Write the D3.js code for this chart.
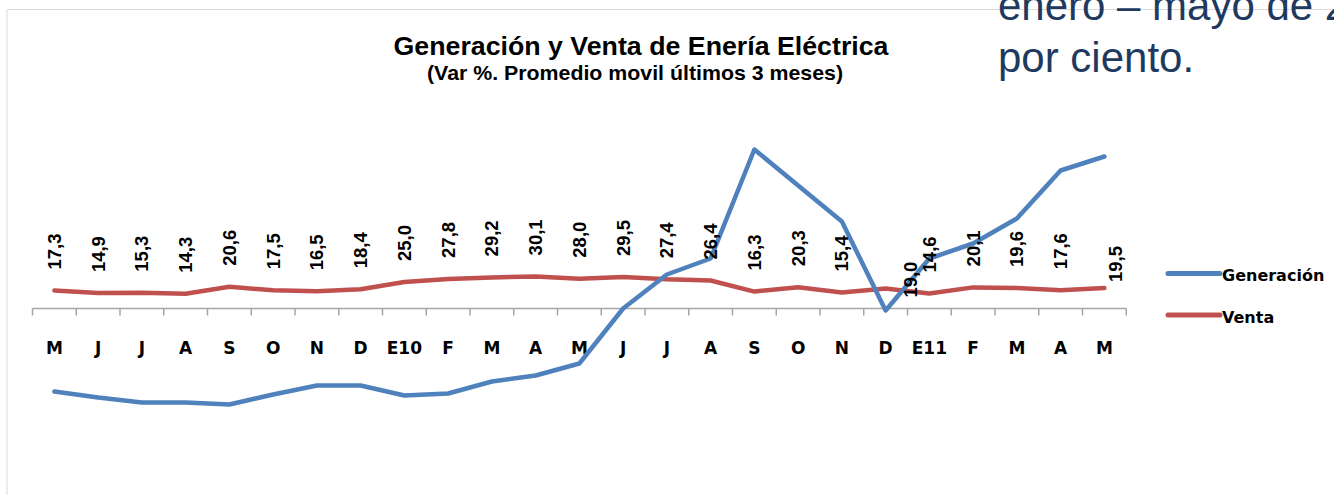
<!DOCTYPE html>
<html>
<head>
<meta charset="utf-8">
<script src="https://cdn.jsdelivr.net/npm/d3@7"></script>
<style>
  body { margin: 0; background: #fff; }
  svg { display: block; }
</style>
</head>
<body>
<svg id="chart" width="1334" height="495"></svg>
<script>
// months shown on the axis (May 2009 - May 2011)
var months = ["M","J","J","A","S","O","N","D","E10","F","M","A","M","J","J","A","S","O","N","D","E11","F","M","A","M"];

// Venta (labelled series)
var venta = [17.3,14.9,15.3,14.3,20.6,17.5,16.5,18.4,25.0,27.8,29.2,30.1,28.0,29.5,27.4,26.4,16.3,20.3,15.4,19.0,14.6,20.1,19.6,17.6,19.5];

// Generación (secondary axis, no labels)
var generacion = [-8.3,-8.9,-9.4,-9.4,-9.6,-8.6,-7.7,-7.7,-8.7,-8.5,-7.3,-6.7,-5.5,0.0,3.4,5.0,15.9,12.3,8.7,-0.2,5.0,6.5,9.0,13.8,15.2];

var svg = d3.select("#chart");
var font = "'Liberation Sans', Arial, sans-serif";
var tahoma = "'DejaVu Sans', Verdana, sans-serif";

// frame of the slide chart
svg.append("path").attr("d", "M7,495 V9.5 H1334")
  .attr("fill", "none").attr("stroke", "#d9d9d9").attr("stroke-width", 1);

var x = d3.scaleBand().domain(d3.range(months.length)).range([32.5, 1126.25]);
var yV = d3.scaleLinear().domain([-100, 200]).range([419.5, 89.5]);
var yG = d3.scaleLinear().domain([-10, 20]).range([408.5, 108.5]);

// category axis
var axisY = yV(0) - 1;
var g = svg.append("g");
g.append("line").attr("x1", x.range()[0]).attr("x2", x.range()[1])
  .attr("y1", axisY).attr("y2", axisY)
  .attr("stroke", "#a6a6a6").attr("stroke-width", 1.5);
g.selectAll(".tick").data(d3.range(months.length + 1)).enter().append("line")
  .attr("x1", function(d){ return x.range()[0] + d * x.step(); })
  .attr("x2", function(d){ return x.range()[0] + d * x.step(); })
  .attr("y1", axisY).attr("y2", axisY + 7)
  .attr("stroke", "#a6a6a6").attr("stroke-width", 1.5);
g.selectAll(".lbl").data(months).enter().append("text")
  .attr("x", function(d, i){ return x(i) + x.bandwidth() / 2; })
  .attr("y", 348).attr("dy", "0.35em")
  .attr("text-anchor", "middle")
  .style("font-family", tahoma).style("font-weight", "bold").style("font-size", "17px")
  .text(function(d){ return d; });

var cx = function(d, i){ return x(i) + x.bandwidth() / 2; };

var lineV = d3.line().x(cx).y(function(d){ return yV(d); });
var lineG = d3.line().x(cx).y(function(d){ return yG(d); });

svg.append("path").datum(venta).attr("d", lineV)
  .attr("fill", "none").attr("stroke", "#c0504d").attr("stroke-width", 4.5)
  .attr("stroke-linejoin", "round").attr("stroke-linecap", "round");
svg.append("path").datum(generacion).attr("d", lineG)
  .attr("fill", "none").attr("stroke", "#4f81bd").attr("stroke-width", 4.5)
  .attr("stroke-linejoin", "round").attr("stroke-linecap", "round");

// data labels for Venta (two were moved by hand in the original)
var nudge = { 19: [25, 30], 24: [11, 15] };
var fmt = function(v){ return d3.format(".1f")(v).replace(".", ","); };
svg.selectAll(".dl").data(venta).enter().append("text")
  .attr("transform", function(d, i){
    var n = nudge[i] || [0, 0];
    return "translate(" + (cx(d, i) + n[0]) + "," + (yV(d) - 21 + n[1]) + ") rotate(-90)";
  })
  .attr("dy", "0.35em")
  .style("font-family", font).style("font-weight", "bold").style("font-size", "18.5px")
  .text(fmt);

// legend
var legend = [["Generación", "#4f81bd", 273.5], ["Venta", "#c0504d", 315]];
legend.forEach(function(l){
  svg.append("line").attr("x1", 1168).attr("x2", 1220).attr("y1", l[2]).attr("y2", l[2])
    .attr("stroke", l[1]).attr("stroke-width", 5).attr("stroke-linecap", "round");
  svg.append("text").attr("x", 1222).attr("y", l[2] + 2).attr("dy", "0.35em")
    .style("font-family", tahoma).style("font-weight", "bold").style("font-size", "16px")
    .text(l[0]);
});

// titles
svg.append("text").attr("x", 641).attr("y", 55).attr("text-anchor", "middle")
  .attr("textLength", 495).attr("lengthAdjust", "spacingAndGlyphs")
  .style("font-family", font).style("font-weight", "bold").style("font-size", "25px")
  .text("Generación y Venta de Enería Eléctrica");
svg.append("text").attr("x", 635).attr("y", 80).attr("text-anchor", "middle")
  .attr("textLength", 416).attr("lengthAdjust", "spacingAndGlyphs")
  .style("font-family", font).style("font-weight", "bold").style("font-size", "21px")
  .text("(Var %. Promedio movil últimos 3 meses)");

// slide text behind the chart (cut by the frame)
svg.append("text").attr("x", 998).attr("y", 20)
  .style("font-family", font).style("font-size", "42px").attr("fill", "#1f3a60")
  .text("enero – mayo de 2011");
svg.append("text").attr("x", 998).attr("y", 72)
  .style("font-family", font).style("font-size", "42px").attr("fill", "#1f3a60")
  .text("por ciento.");
</script>
</body>
</html>
